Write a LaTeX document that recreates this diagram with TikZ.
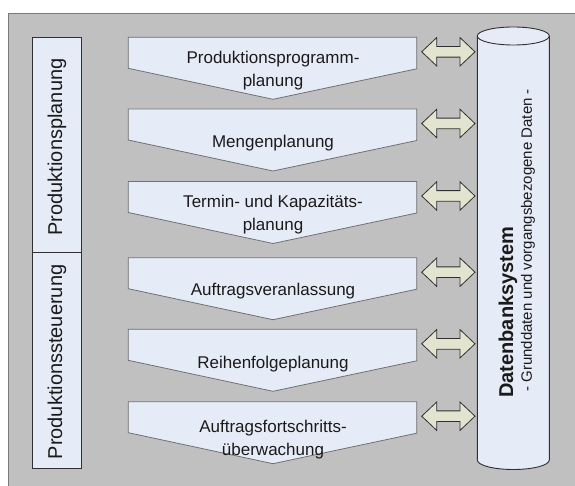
\documentclass[tikz,border=0pt]{standalone}
\usepackage{fontspec}
\setmainfont{Liberation Sans}
\definecolor{bggray}{HTML}{C0C0C0}
\definecolor{bgline}{HTML}{7A7A7A}
\definecolor{boxfill}{HTML}{E6ECF7}
\definecolor{boxline}{HTML}{707070}
\definecolor{arrfill}{HTML}{E2E4D0}
\definecolor{arrline}{HTML}{303030}
\definecolor{txt}{HTML}{1A1A1A}
\begin{document}
\begin{tikzpicture}[x=1pt,y=-1pt,
  chev/.style={fill=boxfill,draw=boxline,line width=0.8pt,line join=miter},
  dblarr/.style={fill=arrfill,draw=arrline,line width=0.8pt,line join=miter},
  chevtext/.style={text=txt,align=center,font=\fontsize{17}{23}\selectfont,inner sep=0pt},
  sidetext/.style={text=txt,rotate=90,font=\fontsize{20}{24}\selectfont,inner sep=0pt},
  sidebox/.style={fill=boxfill,draw=arrline,line width=0.8pt}]
\useasboundingbox (0,0) rectangle (575,486);
\fill[white] (0,0) rectangle (575,486);
\filldraw[fill=bggray,draw=bgline,line width=0.8pt] (8.5,13.5) rectangle (590,500);
% left boxes
\draw[sidebox] (32.5,37.5) rectangle (81,252);
\draw[sidebox] (32.5,252) rectangle (81,468);
\node[sidetext] (pp) at (57,147) {Produktionsplanung};
\node[sidetext] (ps) at (57,362) {Produktionssteuerung};
% chevrons
\foreach \t/\n in {37.3/c1,109/c2,181.5/c3,257.7/c4,329.3/c5,401.7/c6}{
  \draw[chev] (128.3,\t) -- (416.7,\t) -- (416.7,\t+31.5) -- (273,\t+62) -- (128.3,\t+31) -- cycle;
  \coordinate (\n) at (273,\t);
  \draw[dblarr] (421.7,\t+14.5) -- (436.7,\t+0.3) -- (436.7,\t+9.15) -- (460,\t+9.15) -- (460,\t+0.3)
     -- (475,\t+14.5) -- (460,\t+28.7) -- (460,\t+19.85) -- (436.7,\t+19.85) -- (436.7,\t+28.7) -- cycle;
}
\node[chevtext] (t1) at ([yshift=-33]c1) {Produktionsprogramm-\\planung};
\node[chevtext] (t2) at ([yshift=-34]c2) {Mengenplanung};
\node[chevtext] (t3) at ([yshift=-33]c3) {Termin- und Kapazitäts-\\planung};
\node[chevtext] (t4) at ([yshift=-33]c4) {Auftragsveranlassung};
\node[chevtext] (t5) at ([yshift=-35]c5) {Reihenfolgeplanung};
\node[chevtext] (t6) at ([yshift=-38]c6) {Auftragsfortschritts-\\überwachung};
% cylinder
\filldraw[fill=boxfill,draw=arrline,line width=0.9pt]
  (477.3,36) -- (477.3,460)
  .. controls (477.3,465.25) and (493.4,469.5) .. (513.3,469.5)
  .. controls (533.2,469.5) and (549.3,465.25) .. (549.3,460)
  -- (549.3,36)
  .. controls (549.3,31.03) and (533.2,27) .. (513.3,27)
  .. controls (493.4,27) and (477.3,31.03) .. (477.3,36) -- cycle;
\draw[draw=arrline,line width=0.9pt] (477.3,36)
  .. controls (477.3,40.97) and (493.4,45) .. (513.3,45)
  .. controls (533.2,45) and (549.3,40.97) .. (549.3,36);
\node[text=txt,rotate=90,anchor=west,inner sep=0pt,font=\fontsize{20}{24}\selectfont\bfseries] (db) at (508,398) {Datenbanksystem};
\node[text=txt,rotate=90,anchor=west,inner sep=0pt,font=\fontsize{15}{18}\selectfont] (dbs) at (528,392) {- Grunddaten und vorgangsbezogene Daten -};
\end{tikzpicture}
\end{document}
